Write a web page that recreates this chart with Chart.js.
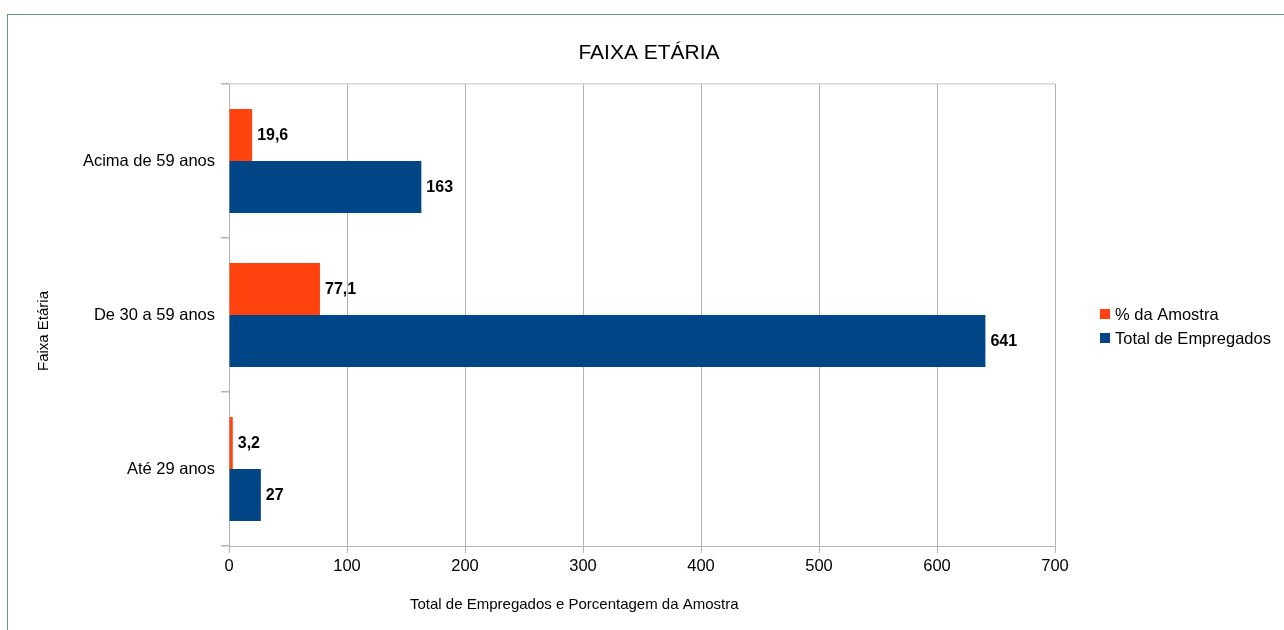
<!DOCTYPE html>
<html>
<head>
<meta charset="utf-8">
<title>Faixa Etária</title>
<script src="https://cdn.jsdelivr.net/npm/chart.js@4/dist/chart.umd.min.js"></script>
<style>
    body { margin: 0; background: #fff; overflow: hidden; width: 1284px; height: 630px; }
    #frame {
        position: absolute; left: 7px; top: 14px; width: 1300px; height: 640px;
        border-left: 1.5px solid #5b9e74; border-top: 1.5px solid #5b9e74;
    }
    #wrap { position: absolute; left: 7px; top: 14px; width: 1284px; height: 630px; }
</style>
</head>
<body>
<div id="frame"></div>
<div id="wrap"><canvas id="faixaChart" width="1284" height="630"></canvas></div>
<script>
// Dados do gráfico
const categorias = ['Acima de 59 anos', 'De 30 a 59 anos', 'Até 29 anos'];
const percAmostra = [19.6, 77.1, 3.2];
const totalEmpregados = [163, 641, 27];
const nomesSeries = ['% da Amostra', 'Total de Empregados'];
const coresSeries = ['#ff420e', '#004586'];
const ticksX = [0, 100, 200, 300, 400, 500, 600, 700];

const fonte = '"Liberation Sans", Arial, sans-serif';

// Rótulos de valor ao lado das barras
const rotulosPlugin = {
    id: 'rotulos',
    afterDatasetsDraw(chart) {
        const ctx = chart.ctx;
        ctx.save();
        ctx.font = 'bold 16px ' + fonte;
        ctx.fillStyle = '#000';
        ctx.textAlign = 'left';
        ctx.textBaseline = 'middle';
        chart.data.datasets.forEach((ds, i) => {
            chart.getDatasetMeta(i).data.forEach((bar, j) => {
                const txt = String(ds.data[j]).replace('.', ',');
                ctx.fillText(txt, bar.x + 5, bar.y + 1);
            });
        });
        ctx.restore();
    }
};

// Título, títulos dos eixos e legenda
const extrasPlugin = {
    id: 'extras',
    afterDraw(chart) {
        const ctx = chart.ctx;
        const area = chart.chartArea;
        ctx.save();
        ctx.fillStyle = '#000';
        ctx.textAlign = 'center';
        ctx.textBaseline = 'middle';

        ctx.font = '21px ' + fonte;
        ctx.fillText('FAIXA ETÁRIA', chart.width / 2, 39);

        ctx.font = '15px ' + fonte;
        ctx.fillText('Total de Empregados e Porcentagem da Amostra', area.left + area.width * 0.418, 591);

        ctx.save();
        ctx.translate(37, 317);
        ctx.rotate(-Math.PI / 2);
        ctx.fillText('Faixa Etária', 0, 0);
        ctx.restore();

        // legenda
        ctx.font = '16.5px ' + fonte;
        ctx.textAlign = 'left';
        chart.data.datasets.forEach((ds, i) => {
            const y = 300 + i * 24;
            ctx.fillStyle = ds.backgroundColor;
            ctx.fillRect(area.right + 45, y - 5, 10, 10);
            ctx.fillStyle = '#000';
            ctx.fillText(ds.label, area.right + 60, y + 1);
        });
        ctx.restore();
    }
};

const ctx = document.getElementById('faixaChart').getContext('2d');

new Chart(ctx, {
    type: 'bar',
    data: {
        labels: categorias,
        datasets: [
            {
                label: nomesSeries[0],
                data: percAmostra,
                backgroundColor: coresSeries[0],
                borderWidth: 0
            },
            {
                label: nomesSeries[1],
                data: totalEmpregados,
                backgroundColor: coresSeries[1],
                borderWidth: 0
            }
        ]
    },
    options: {
        indexAxis: 'y',
        responsive: false,
        animation: false,
        categoryPercentage: 0.675,
        barPercentage: 1,
        layout: { padding: { left: 0, right: 236, top: 70, bottom: 0 } },
        plugins: {
            legend: { display: false },
            tooltip: { enabled: false },
            title: { display: false }
        },
        scales: {
            x: {
                min: 0,
                max: 700,
                afterBuildTicks(scale) {
                    scale.ticks = ticksX.map(v => ({ value: v }));
                },
                afterFit(scale) { scale.height = 98; },
                ticks: {
                    color: '#000',
                    padding: 4,
                    font: { family: fonte, size: 16.5 }
                },
                grid: {
                    color: '#b3b3b3',
                    tickColor: '#b3b3b3',
                    tickLength: 7,
                    lineWidth: 1
                },
                border: { color: '#b3b3b3' }
            },
            y: {
                afterFit(scale) { scale.width = 222; },
                ticks: {
                    color: '#000',
                    padding: 6,
                    font: { family: fonte, size: 16.5 }
                },
                grid: {
                    offset: true,
                    color: c => c.index === 0 ? '#d6d6d6' : 'rgba(0,0,0,0)',
                    tickColor: '#b3b3b3',
                    tickLength: 8,
                    lineWidth: 1.5
                },
                border: { color: '#b3b3b3' }
            }
        }
    },
    plugins: [rotulosPlugin, extrasPlugin]
});
</script>
</body>
</html>
